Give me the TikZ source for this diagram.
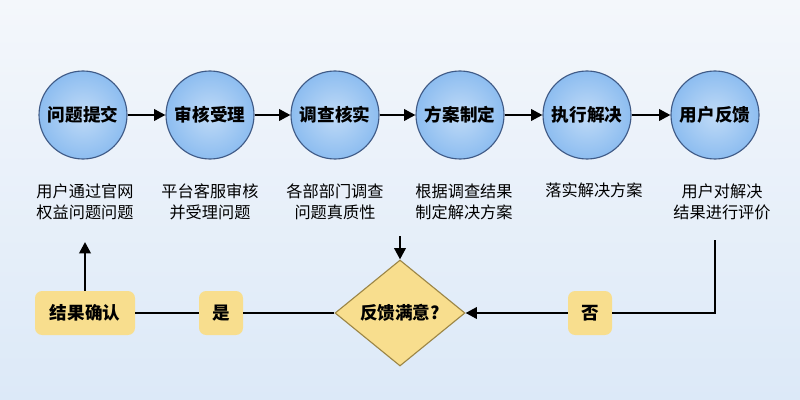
\documentclass[tikz,border=0pt]{standalone}
\usepackage{fontspec}
\setmainfont{Noto Sans CJK SC}
\usetikzlibrary{shapes.geometric,arrows.meta,positioning}
\definecolor{bgtop}{HTML}{F4F7FB}
\definecolor{bgbot}{HTML}{DCE9F8}
\definecolor{stepfill}{HTML}{8DBDF0}
\definecolor{stepline}{HTML}{3F5A86}
\definecolor{boxfill}{HTML}{F8DE8E}
\definecolor{boxline}{HTML}{9C8646}
\newlength{\unitpx}\setlength{\unitpx}{0.025cm}
\tikzset{
  stage/.style={draw=stepline, line width=0.8pt, circle, minimum size=88\unitpx, inner sep=1pt,
    inner color=stepfill!55, outer color=stepfill, font=\fontsize{12.5}{14}\selectfont\bfseries},
  desc/.style={align=center, font=\fontsize{11.5}{15}\selectfont},
  ans/.style={fill=boxfill, rounded corners=5pt, minimum height=44\unitpx, minimum width=44\unitpx,
    font=\fontsize{12.5}{14}\selectfont\bfseries},
  flow/.style={line width=1.8pt, -{Triangle[length=8pt,width=8pt]}},
  link/.style={line width=1.8pt}
}
\begin{document}
\begin{tikzpicture}[x=0.025cm, y=-0.025cm]
  \shade[top color=bgtop, bottom color=bgbot] (0,0) rectangle (800,400);
  \useasboundingbox (0,0) rectangle (800,400);
  % steps
  \node[stage] (S1) at (83,115) {问题提交};
  \node[stage] (S2) at (210,115) {审核受理};
  \node[stage] (S3) at (335,115) {调查核实};
  \node[stage] (S4) at (460,115) {方案制定};
  \node[stage] (S5) at (587,115) {执行解决};
  \node[stage] (S6) at (715,115) {用户反馈};
  \draw[flow] (S1) -- (S2);
  \draw[flow] (S2) -- (S3);
  \draw[flow] (S3) -- (S4);
  \draw[flow] (S4) -- (S5);
  \draw[flow] (S5) -- (S6);
  % descriptions
  \node[desc] (D1) at (85,202) {用户通过官网\\权益问题问题};
  \node[desc] (D2) at (210,202) {平台客服审核\\并受理问题};
  \node[desc] (D3) at (335,202) {各部部门调查\\问题真质性};
  \node[desc] (D4) at (464,202) {根据调查结果\\制定解决方案};
  \node[desc] (D5) at (594,190) {落实解决方案};
  \node[desc] (D6) at (722,202) {用户对解决\\结果进行评价};
  % decision row
  \node[draw=boxline, line width=0.8pt, fill=boxfill, diamond, aspect=1.25, minimum width=130\unitpx,
    minimum height=106\unitpx, inner sep=0pt, font=\fontsize{12.5}{14}\selectfont\bfseries] (Q) at (400,313) {反馈满意?};
  \node[ans] (No) at (590,313) {否};
  \node[ans] (Yes) at (221,313) {是};
  \node[ans, minimum width=100\unitpx] (Done) at (85,313) {结果确认};
  \coordinate (T6) at (715,240);
  \coordinate (T3) at (400,236);
  \coordinate (T1) at (85,242);
  \draw[link] (T6) |- (No);
  \draw[flow] (No) -- (Q);
  \draw[flow] (T3) -- (Q);
  \draw[link] (Q) -- (Yes);
  \draw[link] (Yes) -- (Done);
  \draw[flow] (Done) -- (T1);
\end{tikzpicture}
\end{document}
